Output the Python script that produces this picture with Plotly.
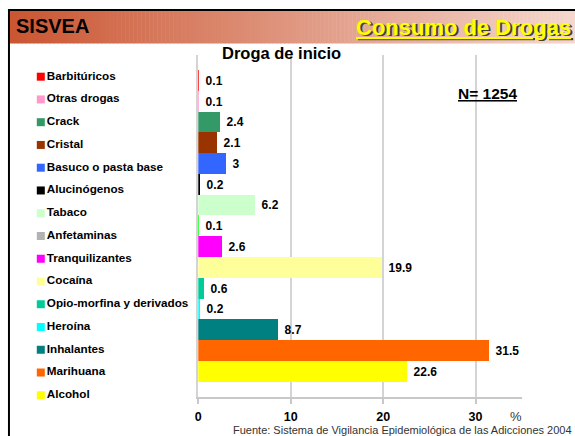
import plotly.graph_objects as go

# ---------------- data ----------------
names = ["Barbitúricos", "Otras drogas", "Crack", "Cristal", "Basuco o pasta base",
         "Alucinógenos", "Tabaco", "Anfetaminas", "Tranquilizantes", "Cocaína",
         "Opio-morfina y derivados", "Heroína", "Inhalantes", "Marihuana", "Alcohol"]
values = [0.1, 0.1, 2.4, 2.1, 3, 0.2, 6.2, 0.1, 2.6, 19.9, 0.6, 0.2, 8.7, 31.5, 22.6]
bar_colors = ["#FF0000", "#FF99CC", "#339966", "#993300", "#3366FF", "#000000", "#CCFFCC",
              "#00FF00", "#FF00FF", "#FFFF99", "#00CC99", "#00FFFF", "#008080", "#FF6600", "#FFFF00"]
legend_colors = ["#FF0000", "#FF99CC", "#339966", "#993300", "#3366FF", "#000000", "#CCFFCC",
                 "#B2B2B2", "#FF00FF", "#FFFF99", "#00CC99", "#00FFFF", "#008080", "#FF6600", "#FFFF00"]
x_ticks = [0, 10, 20, 30]

title_text = "Droga de inicio"
header_left = "SISVEA"
header_right = "Consumo de Drogas"
n_text = "N= 1254"
source_text = "Fuente: Sistema de Vigilancia Epidemiológica de las Adicciones 2004"

# ---------------- layout helpers ----------------
W, H = 575, 436
FONT = "Liberation Sans, Arial, sans-serif"


def px(x):
    return x / W


def py(y):
    return 1 - y / H


fig = go.Figure()

# bars
fig.add_trace(go.Bar(
    x=values, y=names, orientation="h",
    marker=dict(color=bar_colors, line=dict(width=0)),
    text=[f"{v:g}" for v in values],
    texttemplate="\u00a0%{text}",
    textposition="outside",
    constraintext="none",
    outsidetextfont=dict(family=FONT, size=12, color="#000000", weight="bold"),
    cliponaxis=False,
    hoverinfo="skip",
    showlegend=False,
    xaxis="x", yaxis="y",
))

# legend-like list on its own axes
fig.add_trace(go.Scatter(
    x=[0] * len(names), y=names, mode="markers+text",
    marker=dict(symbol="square", size=8, color=legend_colors, line=dict(width=0)),
    text=names, textposition="middle right",
    textfont=dict(family=FONT, size=11.7, color="#000000", weight="bold"),
    cliponaxis=False, hoverinfo="skip", showlegend=False,
    xaxis="x2", yaxis="y2",
))

shapes = []
# header gradient band
x0, x1 = 7, 575
c0 = (202, 86, 50)
c1 = (245, 216, 206)
step = 4
xx = x0
while xx < x1:
    t = (xx - x0) / (x1 - x0)
    c = tuple(int(round(c0[i] + (c1[i] - c0[i]) * t)) for i in range(3))
    shapes.append(dict(type="rect", xref="paper", yref="paper",
                       x0=px(xx), x1=px(min(xx + step + 0.5, x1)), y0=py(43.5), y1=py(11),
                       fillcolor=f"rgb{c}", line=dict(width=0), layer="below"))
    xx += step
# slide border lines
shapes.append(dict(type="rect", xref="paper", yref="paper", x0=px(5), x1=px(575),
                   y0=py(11), y1=py(9), fillcolor="#000000", line=dict(width=0)))
shapes.append(dict(type="rect", xref="paper", yref="paper", x0=px(5), x1=px(7),
                   y0=py(436), y1=py(9), fillcolor="#000000", line=dict(width=0)))

annotations = [
    dict(text=f"<b>{header_left}</b>", x=px(11), y=py(26), xref="paper", yref="paper",
         xanchor="left", yanchor="middle", showarrow=False,
         font=dict(family=FONT, size=20, color="#000000")),
    # shadow of header_right
    dict(text=f"<b><u>{header_right}</u></b>", x=px(574.5), y=py(28.5), xref="paper", yref="paper",
         xanchor="right", yanchor="middle", showarrow=False,
         font=dict(family=FONT, size=22, color="#404040")),
    dict(text=f"<b><u>{header_right}</u></b>", x=px(573), y=py(27), xref="paper", yref="paper",
         xanchor="right", yanchor="middle", showarrow=False,
         font=dict(family=FONT, size=22, color="#FFFF00")),
    dict(text=f"<b>{title_text}</b>", x=px(280), y=py(53), xref="paper", yref="paper",
         xanchor="center", yanchor="middle", showarrow=False,
         font=dict(family=FONT, size=16.5, color="#000000")),
    dict(text=f"<b><u>{n_text}</u></b>", x=px(487), y=py(93), xref="paper", yref="paper",
         xanchor="center", yanchor="middle", showarrow=False,
         font=dict(family=FONT, size=15.5, color="#000000")),
    dict(text="%", x=px(516), y=py(416), xref="paper", yref="paper",
         xanchor="center", yanchor="middle", showarrow=False,
         font=dict(family=FONT, size=13, color="#333333")),
    dict(text=source_text, x=px(574), y=py(429.5), xref="paper", yref="paper",
         xanchor="right", yanchor="middle", showarrow=False,
         font=dict(family=FONT, size=11, color="#333333")),
]

# category units: bar pitch ~20.78 px, first bar centre at y=80.4
fig.update_layout(
    width=W, height=H,
    margin=dict(l=0, r=0, t=0, b=0, pad=0),
    paper_bgcolor="#FFFFFF", plot_bgcolor="#FFFFFF",
    bargap=0,
    showlegend=False,
    font=dict(family=FONT, color="#000000"),
    xaxis=dict(domain=[px(196.3), px(521.5)], range=[0, 35], tickvals=x_ticks,
               showgrid=True, gridcolor="#D4D4D4", gridwidth=2,
               showline=True, linecolor="#C8C8C8", linewidth=1.5,
               ticks="outside", ticklen=5, tickcolor="#C8C8C8", tickwidth=1.5,
               tickfont=dict(family=FONT, size=12.5, color="#000000", weight="bold"),
               ticklabelstandoff=2,
               zeroline=False, fixedrange=True, layer="below traces"),
    yaxis=dict(domain=[py(397), py(55)], type="category",
               categoryorder="array", categoryarray=names,
               range=[15.236, -1.222], showticklabels=False, ticks="",
               showgrid=False, zeroline=False,
               showline=True, linecolor="#D4D4D4", linewidth=2,
               fixedrange=True, layer="below traces"),
    xaxis2=dict(domain=[0, px(195)], range=[-38, 157], visible=False, anchor="y2",
                fixedrange=True),
    yaxis2=dict(domain=[0, 1], type="category", categoryorder="array", categoryarray=names,
                range=[15.79, -3.37], visible=False, anchor="x2", fixedrange=True),
    shapes=shapes,
    annotations=annotations,
)

fig.write_html(
    "out.html",
    config={"displayModeBar": False},
    post_script="document.body.style.margin='0';document.body.style.overflow='hidden';",
)
